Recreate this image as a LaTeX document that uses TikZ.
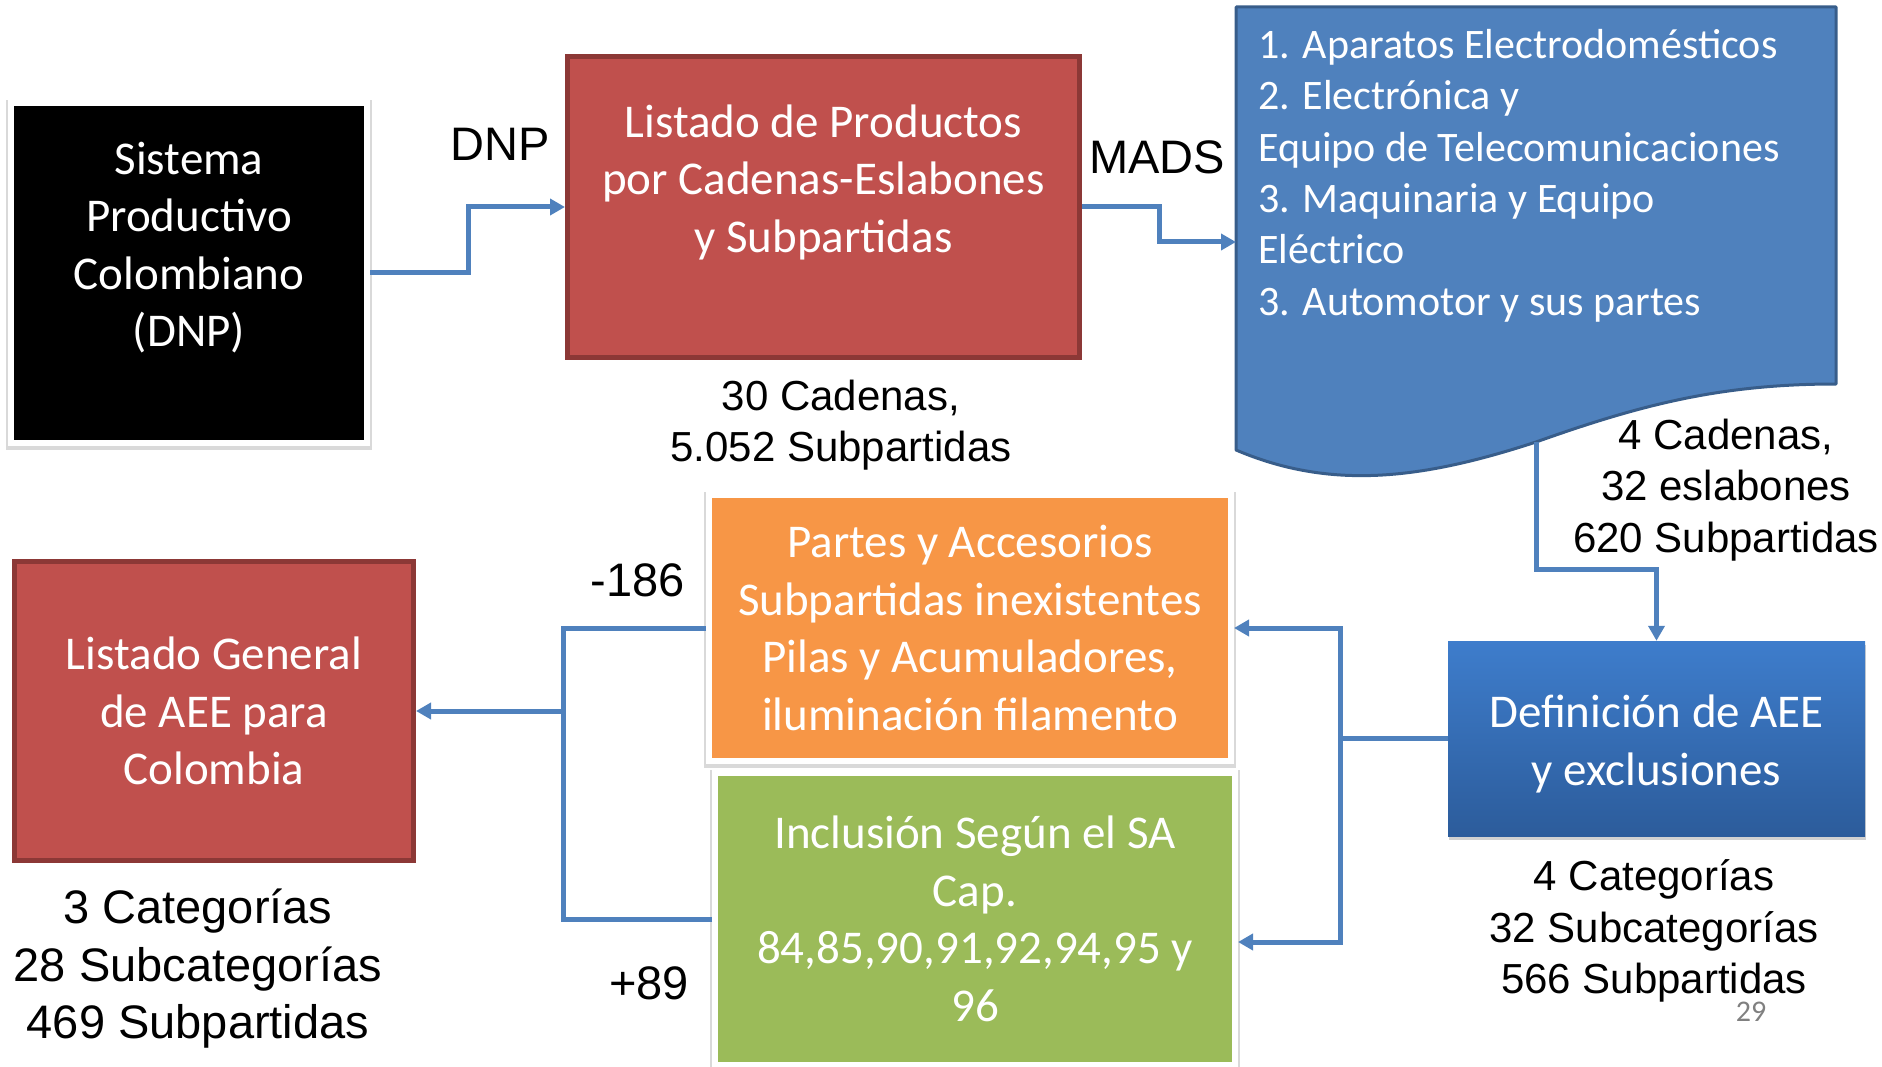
\documentclass[tikz,border=0pt]{standalone}
\usepackage{fontspec}
\usetikzlibrary{arrows.meta,shadows}
\newfontfamily\calibrifont{Carlito}
\newfontfamily\arialfont{Liberation Sans}
\definecolor{boxred}{HTML}{C0504D}
\definecolor{boxredline}{HTML}{8C3836}
\definecolor{docblue}{HTML}{4F81BD}
\definecolor{docblueline}{HTML}{385D8A}
\definecolor{deftop}{HTML}{3E7DCC}
\definecolor{defbottom}{HTML}{2C5C9B}
\definecolor{boxorange}{HTML}{F79646}
\definecolor{boxgreen}{HTML}{9BBB59}
\definecolor{linkblue}{HTML}{4F81BD}

\begin{document}
\begin{tikzpicture}[x=1pt,y=-1pt,>={Triangle[length=15pt,width=16pt]},
	box/.style={align=center,text=white,inner sep=0pt,font=\calibrifont\fontsize{47}{57.5}\selectfont},
	framed/.style={box,draw=white,line width=6pt,drop shadow={shadow xshift=0pt,shadow yshift=-2pt,opacity=.15,fill=black,draw=black,line width=10pt}},
	redbox/.style={box,fill=boxred,draw=boxredline,line width=5pt},
	count/.style={align=center,inner sep=0pt,font=\arialfont\fontsize{42}{51.5}\selectfont},
	bigcount/.style={align=center,inner sep=0pt,font=\arialfont\fontsize{47}{57.5}\selectfont},
	link/.style={draw=linkblue,line width=5pt},
	arrow/.style={link,->}]
	\useasboundingbox (0,0) rectangle (1882,1067);
	\node[framed,fill=black,minimum width=356pt,minimum height=340pt] (sistema) at (189,273) {Sistema\\Productivo\\Colombiano\\(DNP)\\~};
	\node[redbox,minimum width=512pt,minimum height=301pt] (listado) at (823.5,207) {Listado de Productos\\por Cadenas-Eslabones\\y Subpartidas\\~};
	\draw[fill=docblue,draw=docblueline,line width=3pt,line join=round] (1236,7) -- (1836,7) -- (1836,384) .. controls (1720,384) and (1640,405) .. (1536,442) .. controls (1420,480) and (1330,490) .. (1236,450) -- cycle;
	\node[box,font=\calibrifont\fontsize{42}{51.4}\selectfont,align=left,anchor=north west] (cadenas) at (1258,29) {1. Aparatos Electrodomésticos\\2. Electrónica y\\Equipo de Telecomunicaciones\\3. Maquinaria y Equipo\\Eléctrico\\3. Automotor y sus partes};
	\coordinate (docin) at (1236,242);
	\coordinate (docout) at (1536,442);
	\node[box,top color=deftop,bottom color=defbottom,minimum width=417pt,minimum height=195pt,drop shadow={shadow xshift=1pt,shadow yshift=-4pt,opacity=.3,fill=black!60}] (definicion) at (1656.5,738.5) {\rule{0pt}{44pt}Definición de AEE\\y exclusiones};
	\node[framed,fill=boxorange,minimum width=522pt,minimum height=266pt] (partes) at (970,628) {Partes y Accesorios\\Subpartidas inexistentes\\Pilas y Acumuladores,\\iluminación filamento};
	\node[framed,fill=boxgreen,minimum width=520pt,minimum height=292pt] (inclusion) at (975,919) {Inclusión Según el SA\\Cap.\\84,85,90,91,92,94,95 y\\96};
	\node[redbox,minimum width=399pt,minimum height=299pt] (general) at (214,711) {Listado General\\de AEE para\\Colombia};
	\draw[arrow] (sistema.east) -- ++(98,0) |- (listado.west);
	\draw[arrow] (listado.east) -- ++(77,0) |- (docin);
	\draw[arrow] (docout) -- ++(0,127) -| (definicion.north);
	\coordinate (split) at (1340,738.5);
	\draw[link] (definicion.west) -- (split);
	\draw[arrow] (split) |- (partes.east);
	\draw[arrow] (split) |- ([yshift=-23pt]inclusion.east);
	\coordinate (merge) at (563,711);
	\draw[link] (partes.west) -| (merge);
	\draw[link] (inclusion.west) -| (merge);
	\draw[arrow] (merge) -- (general.east);
	\node[bigcount] (dnp) at (500,144) {DNP};
	\node[bigcount] (mads) at (1157,157) {MADS};
	\node[count] (n30) at (841,425) {30 Cadenas,\\5.052 Subpartidas};
	\node[count] (n4) at (1726,490) {4 Cadenas,\\32 eslabones\\620 Subpartidas};
	\node[count] (ncat) at (1654,931) {4 Categorías\\32 Subcategorías\\566 Subpartidas};
	\node[bigcount] (nfinal) at (198,969) {3 Categorías\\28 Subcategorías\\469 Subpartidas};
	\node[bigcount] (menos) at (638,580) {-186};
	\node[bigcount] (mas) at (649,983) {+89};
	\node[font=\calibrifont\fontsize{30}{36}\selectfont,text=gray,inner sep=0pt] (pag) at (1751,1012) {29};
\end{tikzpicture}
\end{document}
